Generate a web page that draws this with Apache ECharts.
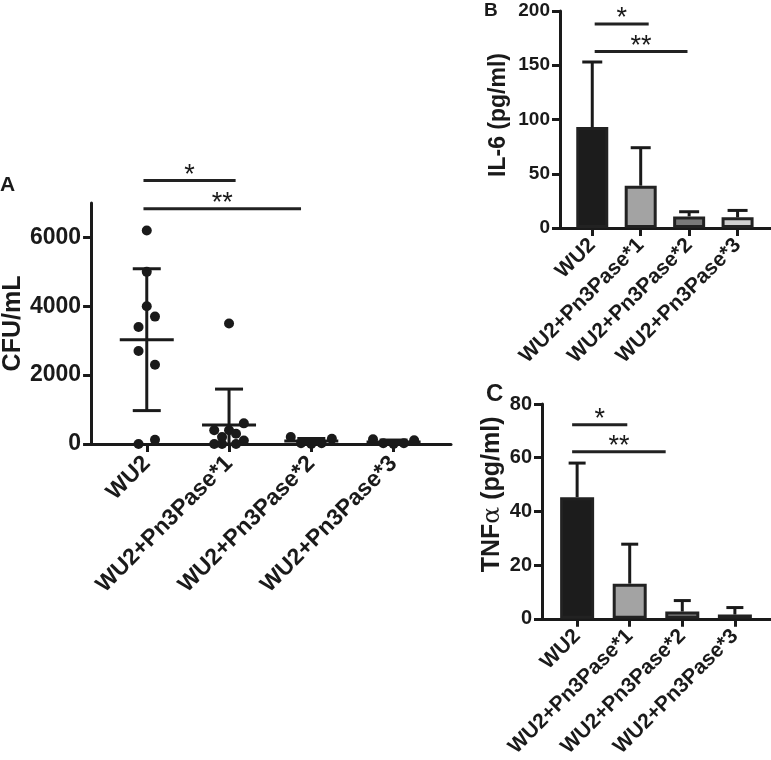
<!DOCTYPE html>
<html><head><meta charset="utf-8">
<script src="https://cdn.jsdelivr.net/npm/echarts@6.0.0/dist/echarts.min.js"></script>
<style>html,body{margin:0;padding:0;background:#fff}#c{width:771px;height:760px}</style>
</head><body><div id="c"></div>
<script>
const categories = ['WU2', 'WU2+Pn3Pase*1', 'WU2+Pn3Pase*2', 'WU2+Pn3Pase*3'];
// Panel A: individual CFU/mL values per group
const cfuWU2 = [6200, 5000, 4000, 3700, 3400, 2700, 2300, 0, 120];
const cfuP1 = [3500, 600, 400, 400, 300, 200, 100, 0, 0, 0];
const cfuP2 = [200, 20, 0, 20, 150];
const cfuP3 = [140, 20, 0, 20, 110];
// horizontal scatter of the dots within each group (category units)
const jitWU2 = [0, 0, 0, 0.1, -0.1, -0.1, 0.1, -0.1, 0.1];
const jitP1 = [0, 0.18, -0.18, 0, 0.085, -0.085, 0.18, -0.18, -0.085, 0.085];
const jitP2 = [-0.25, -0.125, 0, 0.125, 0.25];
const jitP3 = [-0.25, -0.125, 0, 0.125, 0.25];
const cfuMean = [3030, 555, 90, 60];
const cfuSD = [2060, 1040, 70, 55];
const cfuTicks = [0, 2000, 4000, 6000];
// Panel B: IL-6 (pg/ml)
const il6Mean = [93, 39, 10.7, 9.8];
const il6Upper = [153, 74, 15, 16.2];
const il6Ticks = [0, 50, 100, 150, 200];
// Panel C: TNFa (pg/ml)
const tnfMean = [45.3, 13.1, 2.7, 1.6];
const tnfUpper = [58, 27.8, 6.8, 4.2];
const tnfTicks = [0, 20, 40, 60, 80];
// significance brackets: [from, to, level, label]
const sigA = [[-0.04, 1.08, 7650, '*'], [-0.04, 1.875, 6830, '**']];
const sigB = [[0.05, 1.165, 188, '*'], [0.05, 1.966, 162.6, '**']];
const sigC = [[-0.095, 0.954, 72.3, '*'], [-0.095, 1.684, 62.2, '**']];

const ink = '#1a1a1a';
const FF = "'Liberation Sans', Arial, Helvetica, sans-serif";
const barColorsB = ['#1c1c1c', '#a3a3a3', '#7a7a7a', '#d0d0d0'];
const barColorsC = ['#1c1c1c', '#a3a3a3', '#808080', '#b8b8b8'];

function xAxisCfg(gi, min, max, fs, margin) {
  return {
    type: 'value', gridIndex: gi, min: min, max: max,
    axisLine: { show: true, onZero: false, lineStyle: { color: ink, width: 3 } },
    splitLine: { show: false },
    axisTick: { show: true, customValues: [0, 1, 2, 3], length: 8, lineStyle: { color: ink, width: 3 } },
    axisLabel: {
      customValues: [0, 1, 2, 3], rotate: 45, margin: margin,
      formatter: v => categories[Math.round(v)],
      color: ink, fontSize: fs, fontWeight: 'bold', fontFamily: FF
    }
  };
}
function yAxisCfg(gi, min, max, ticks, fs, name, nfs, gap, pad, rich) {
  return {
    type: 'value', gridIndex: gi, min: min, max: max,
    name: name, nameLocation: 'middle', nameRotate: 90, nameGap: gap,
    nameTextStyle: { color: ink, fontSize: nfs, fontWeight: 'bold', fontFamily: FF, padding: [0, 0, 0, pad], rich: rich },
    axisLine: { show: true, onZero: false, lineStyle: { color: ink, width: 3 } },
    splitLine: { show: false },
    axisTick: { show: true, customValues: ticks, length: 8, lineStyle: { color: ink, width: 3 } },
    axisLabel: {
      customValues: ticks, margin: 10, formatter: v => String(v),
      color: ink, fontSize: fs, fontWeight: 'bold', fontFamily: FF
    }
  };
}
function sigSeries(gi, data, fs) {
  return {
    type: 'custom', xAxisIndex: gi, yAxisIndex: gi, clip: false, z: 5,
    data: data.map(d => [d[0], d[1], d[2]]),
    renderItem: (params, api) => {
      const p1 = api.coord([api.value(0), api.value(2)]);
      const p2 = api.coord([api.value(1), api.value(2)]);
      return {
        type: 'group', children: [
          { type: 'line', shape: { x1: p1[0], y1: p1[1], x2: p2[0], y2: p2[1] }, style: { stroke: '#222', lineWidth: 3 } },
          { type: 'text', x: (p1[0] + p2[0]) / 2, y: p1[1] + 8,
            style: { text: data[params.dataIndex][3], fill: ink, fontSize: fs, fontFamily: FF, align: 'center', verticalAlign: 'bottom', lineHeight: fs } }
        ]
      };
    }
  };
}
function upperErr(gi, means, uppers, cap) {
  return {
    type: 'custom', xAxisIndex: gi, yAxisIndex: gi, z: 4,
    data: means.map((m, i) => [i, m, uppers[i]]),
    renderItem: (params, api) => {
      const a = api.coord([api.value(0), api.value(1)]);
      const b = api.coord([api.value(0), api.value(2)]);
      return {
        type: 'group', children: [
          { type: 'line', shape: { x1: a[0], y1: a[1], x2: b[0], y2: b[1] }, style: { stroke: ink, lineWidth: 3 } },
          { type: 'line', shape: { x1: b[0] - cap / 2, y1: b[1], x2: b[0] + cap / 2, y2: b[1] }, style: { stroke: ink, lineWidth: 3 } }
        ]
      };
    }
  };
}
function barSeries(gi, means, colors, w) {
  return {
    type: 'bar', xAxisIndex: gi, yAxisIndex: gi, barWidth: w, z: 3,
    data: means.map((m, i) => ({ value: [i, m], itemStyle: { color: colors[i], borderColor: '#222', borderWidth: 3 } }))
  };
}
const groupsA = [[cfuWU2, jitWU2], [cfuP1, jitP1], [cfuP2, jitP2], [cfuP3, jitP3]];
const dotsA = [];
groupsA.forEach((g, gi) => g[0].forEach((v, k) => dotsA.push([gi + g[1][k], v])));

const letter = (t, x, y, fs) => ({ type: 'text', left: x, top: y, style: { text: t, fill: ink, fontSize: fs, fontWeight: 'bold', fontFamily: FF } });

const option = {
  animation: false,
  backgroundColor: '#fff',
  graphic: [letter('A', 0, 175, 21), letter('B', 484, 1, 19), letter('C', 486, 382, 24)],
  grid: [
    { left: 89, top: 203, width: 362, height: 241 },
    { left: 560, top: 11, width: 211, height: 217 },
    { left: 542, top: 404, width: 229, height: 216 }
  ],
  xAxis: [
    xAxisCfg(0, -0.677, 3.698, 23, 16),
    xAxisCfg(1, -0.666, 3.69, 21, 14),
    xAxisCfg(2, -0.668, 3.687, 21, 14)
  ],
  yAxis: [
    yAxisCfg(0, 0, 7000, cfuTicks, 23, 'CFU/mL', 25, 60, 0),
    yAxisCfg(1, 0, 200, il6Ticks, 19, 'IL-6 (pg/ml)', 23, 50, 9),
    yAxisCfg(2, 0, 80, tnfTicks, 20, '{b|TNF}{a|α}{b| (pg/ml)}', 25, 37, 34,
      { b: { fontSize: 25, fontWeight: 'bold', color: ink, fontFamily: FF }, a: { fontSize: 25, fontWeight: 'normal', color: ink, fontFamily: "'DejaVu Serif', serif" } })
  ],
  series: [
    {
      type: 'scatter', xAxisIndex: 0, yAxisIndex: 0, symbolSize: 10, z: 3,
      itemStyle: { color: ink, opacity: 1 }, data: dotsA
    },
    {
      type: 'custom', xAxisIndex: 0, yAxisIndex: 0, z: 4,
      data: cfuMean.map((m, i) => [i, m, cfuSD[i]]),
      renderItem: (params, api) => {
        const x = api.value(0), m = api.value(1), s = api.value(2);
        const c = api.coord([x, m]);
        const t = api.coord([x, m + s]);
        const b = api.coord([x, Math.max(0, m - s)]);
        const st = { stroke: ink, lineWidth: 3 };
        return {
          type: 'group', children: [
            { type: 'line', shape: { x1: t[0], y1: t[1], x2: b[0], y2: b[1] }, style: st },
            { type: 'line', shape: { x1: t[0] - 14, y1: t[1], x2: t[0] + 14, y2: t[1] }, style: st },
            { type: 'line', shape: { x1: b[0] - 14, y1: b[1], x2: b[0] + 14, y2: b[1] }, style: st },
            { type: 'line', shape: { x1: c[0] - 27, y1: c[1], x2: c[0] + 27, y2: c[1] }, style: st }
          ]
        };
      }
    },
    sigSeries(0, sigA, 27),
    upperErr(1, il6Mean, il6Upper, 20),
    barSeries(1, il6Mean, barColorsB, 32),
    sigSeries(1, sigB, 27),
    upperErr(2, tnfMean, tnfUpper, 17),
    barSeries(2, tnfMean, barColorsC, 34),
    sigSeries(2, sigC, 27)
  ]
};
const chart = echarts.init(document.getElementById('c'), null, { renderer: 'canvas' });
chart.setOption(option);
</script></body></html>
